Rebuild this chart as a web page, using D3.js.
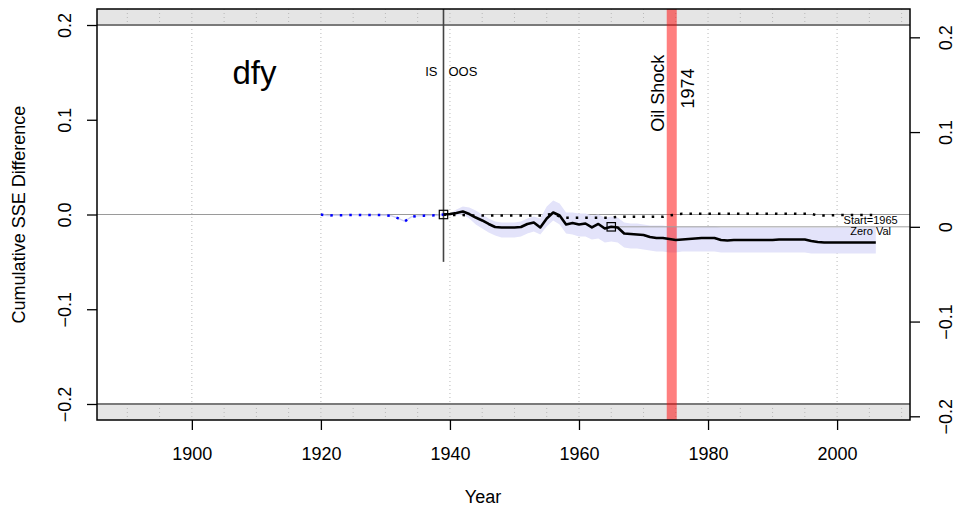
<!DOCTYPE html>
<html><head><meta charset="utf-8">
<script src="https://cdn.jsdelivr.net/npm/d3@7"></script>
<style>body{margin:0;background:#fff;} svg{display:block;font-family:"Liberation Sans",Arial,Helvetica,sans-serif;}</style>
</head><body><svg id="c" width="956" height="514"></svg>
<script>
// ---------- data ----------
const isYears = [1920,1921,1922,1923,1924,1925,1926,1927,1928,1929,1930,1931,1932,1933,1934,1935,1936,1937,1938,1939];
const isDiff = [0,-0.0012,-0.0008,-0.0008,-0.0006,-0.0004,-0.0004,-0.0006,-0.0006,-0.0006,-0.0008,-0.0015,-0.0040,-0.0072,-0.0025,-0.0015,-0.0012,-0.0010,-0.0008,0];

const oosYears = d3.range(1939, 2007);
const cumDiff = [0,0.0005,0.0016,0.0032,0.0005,-0.0032,-0.0063,-0.0100,-0.0132,-0.0137,
  -0.0137,-0.0137,-0.0132,-0.0100,-0.0084,-0.0137,-0.0042,0.0021,-0.0011,-0.0106,
  -0.0090,-0.0106,-0.0095,-0.0137,-0.0100,-0.0148,-0.0130,-0.0137,-0.0200,-0.0206,
  -0.0211,-0.0216,-0.0237,-0.0248,-0.0248,-0.0259,-0.0269,-0.0264,-0.0259,-0.0253,
  -0.0248,-0.0248,-0.0248,-0.0269,-0.0274,-0.0269,-0.0269,-0.0269,-0.0269,-0.0269,
  -0.0269,-0.0269,-0.0264,-0.0264,-0.0264,-0.0264,-0.0264,-0.0280,-0.0290,-0.0295,
  -0.0295,-0.0295,-0.0295,-0.0295,-0.0295,-0.0295,-0.0295,-0.0295];
const bandUpper = [0,0.0011,0.0053,0.0084,0.0074,0.0042,0.0000,-0.0042,-0.0074,-0.0084,
  -0.0084,-0.0084,-0.0074,-0.0042,-0.0021,-0.0042,0.0084,0.0148,0.0116,0.0021,
  0.0021,0.0011,0.0011,-0.0011,0.0000,-0.0032,-0.0021,-0.0032,-0.0084,-0.0095,
  -0.0095,-0.0106,-0.0116,-0.0116,-0.0116,-0.0127,-0.0127,-0.0127,-0.0127,-0.0127,
  -0.0127,-0.0127,-0.0127,-0.0137,-0.0137,-0.0137,-0.0137,-0.0137,-0.0137,-0.0137,
  -0.0137,-0.0137,-0.0137,-0.0137,-0.0137,-0.0137,-0.0137,-0.0137,-0.0137,-0.0137,
  -0.0137,-0.0137,-0.0137,-0.0137,-0.0137,-0.0137,-0.0137,-0.0137];
const bandLower = [0,-0.0011,-0.0011,0.0000,-0.0042,-0.0106,-0.0148,-0.0190,-0.0222,-0.0243,
  -0.0243,-0.0243,-0.0232,-0.0200,-0.0179,-0.0211,-0.0127,-0.0063,-0.0106,-0.0200,
  -0.0211,-0.0232,-0.0232,-0.0264,-0.0253,-0.0295,-0.0285,-0.0295,-0.0348,-0.0359,
  -0.0359,-0.0369,-0.0380,-0.0390,-0.0390,-0.0401,-0.0401,-0.0390,-0.0390,-0.0390,
  -0.0390,-0.0390,-0.0390,-0.0401,-0.0401,-0.0401,-0.0401,-0.0401,-0.0401,-0.0401,
  -0.0401,-0.0401,-0.0401,-0.0401,-0.0401,-0.0401,-0.0401,-0.0411,-0.0411,-0.0411,
  -0.0411,-0.0411,-0.0411,-0.0411,-0.0411,-0.0411,-0.0411,-0.0411];
const baseDiff = [0,-0.0005,-0.0005,-0.0005,-0.001,-0.001,-0.001,-0.001,-0.001,-0.001,
  -0.001,-0.001,-0.001,-0.001,-0.001,-0.001,0.0,0.0007,-0.002,-0.0033,
  -0.0033,-0.0033,-0.0033,-0.0033,-0.0033,-0.0033,-0.0033,-0.0025,-0.0025,-0.0025,
  -0.0025,-0.0025,-0.0025,-0.0025,-0.0025,-0.001,0.0,0.0007,0.0007,0.0007,
  0.0007,0.0007,0.0007,0.0007,0.0007,0.0007,0.0007,0.0007,0.0007,0.0007,
  0.0007,0.0007,0.0007,0.0007,0.0007,0.0007,0.0007,0.0007,-0.001,-0.001,
  -0.001,-0.0005,-0.0005,-0.0005,-0.0005,-0.0005,-0.0005,-0.0005];

const xTicks = [1900,1920,1940,1960,1980,2000];
const yTicks = [-0.2,-0.1,0,0.1,0.2];
const isEnd = 1939;
const startYear = 1965;
const oilShockYear = 1974;
const oilShockSpan = [1973.6, 1975.15];
const variableName = "dfy";

// ---------- layout ----------
const L = 97, R = 910, T = 9, B = 420;
const svg = d3.select("#c");
const x = d3.scaleLinear().domain([1885.3, 2011.3]).range([L, R]);
const y = d3.scaleLinear().domain([-0.2169, 0.2169]).range([B, T]);
const startVal = cumDiff[oosYears.indexOf(startYear)];
const yR = d3.scaleLinear().domain(y.domain().map(d => d - startVal)).range([B, T]);

const g = svg.append("g");
svg.append("defs").append("clipPath").attr("id","clip").append("rect")
  .attr("x",L).attr("y",T).attr("width",R-L).attr("height",B-T);
const p = g.append("g").attr("clip-path","url(#clip)");

// grey bands
p.append("rect").attr("x",L).attr("y",T).attr("width",R-L).attr("height",y(0.2)-T).attr("fill","#e5e5e5");
p.append("rect").attr("x",L).attr("y",y(-0.2)).attr("width",R-L).attr("height",B-y(-0.2)).attr("fill","#e5e5e5");

// dotted grid
const fiveYears = d3.range(1890, 2011, 5);
fiveYears.forEach(yr => {
  [[T, y(0.2)],[y(-0.2), B]].forEach(([a,b]) => {
    p.append("line").attr("x1",x(yr)).attr("x2",x(yr)).attr("y1",a).attr("y2",b)
      .attr("stroke","#b8b8b8").attr("stroke-width",1).attr("stroke-dasharray","1,3");
  });
});
xTicks.forEach(yr => {
  p.append("line").attr("x1",x(yr)).attr("x2",x(yr)).attr("y1",y(0.2)).attr("y2",y(-0.2))
    .attr("stroke","#b8b8b8").attr("stroke-width",1).attr("stroke-dasharray","1,3");
});
[0.2,-0.2].forEach(v => p.append("line").attr("x1",L).attr("x2",R).attr("y1",y(v)).attr("y2",y(v))
  .attr("stroke","#7a7a7a").attr("stroke-width",2));
p.append("line").attr("x1",L).attr("x2",R).attr("y1",y(0)).attr("y2",y(0)).attr("stroke","#9a9a9a").attr("stroke-width",1);

// confidence band
const oos = oosYears.map((yr,i)=>({yr, v:cumDiff[i], hi:bandUpper[i], lo:bandLower[i], b:baseDiff[i]}));
p.append("path").datum(oos)
  .attr("d", d3.area().x(d=>x(d.yr)).y0(d=>y(d.lo)).y1(d=>y(d.hi)))
  .attr("fill","#e3e3fa");
const ism = isYears.map((yr,i)=>({yr, v:isDiff[i]}));
p.append("path").datum(ism).attr("d", d3.line().x(d=>x(d.yr)).y(d=>y(d.v)))
  .attr("fill","none").attr("stroke","#cfcff5").attr("stroke-width",1.3);

// oil shock band
p.append("rect").attr("x",x(oilShockSpan[0])).attr("width",x(oilShockSpan[1])-x(oilShockSpan[0]))
  .attr("y",T).attr("height",B-T).attr("fill","rgba(255,0,0,0.5)");

// zero val line
p.append("line").attr("x1",x(startYear)).attr("x2",R).attr("y1",y(startVal)).attr("y2",y(startVal))
  .attr("stroke","#a0a0a0").attr("stroke-width",1);

// IS/OOS divider
p.append("line").attr("x1",x(isEnd)).attr("x2",x(isEnd)).attr("y1",T).attr("y2",y(-0.05))
  .attr("stroke","#444").attr("stroke-width",1.6);

// lines
p.append("path").datum(oos).attr("d", d3.line().x(d=>x(d.yr)).y(d=>y(d.b)))
  .attr("fill","none").attr("stroke","#000").attr("stroke-width",2.5).attr("stroke-dasharray","2.5,7");
p.append("path").datum(ism).attr("d", d3.line().x(d=>x(d.yr)).y(d=>y(d.v)))
  .attr("fill","none").attr("stroke","#0000ff").attr("stroke-width",2.5).attr("stroke-dasharray","2.5,7");
p.append("path").datum(oos).attr("d", d3.line().x(d=>x(d.yr)).y(d=>y(d.v)))
  .attr("fill","none").attr("stroke","#000").attr("stroke-width",2.6).attr("stroke-linejoin","round");

// squares
[[isEnd, 0],[startYear, startVal]].forEach(([yr,v]) => {
  p.append("rect").attr("x",x(yr)-4.2).attr("y",y(v)-4.2).attr("width",8.4).attr("height",8.4)
    .attr("fill","none").attr("stroke","#000").attr("stroke-width",1.2);
});

// texts
g.append("text").attr("x",x(1909.7)).attr("y",y(0.138)).attr("text-anchor","middle")
  .attr("font-size",33).text(variableName);
g.append("text").attr("x",x(isEnd)-6).attr("y",y(0.146)).attr("text-anchor","end").attr("font-size",13).text("IS");
g.append("text").attr("x",x(isEnd)+5).attr("y",y(0.146)).attr("text-anchor","start").attr("font-size",13).text("OOS");
g.append("text").attr("transform",`translate(${x(oilShockSpan[0])-3},${y(0.128)}) rotate(-90)`)
  .attr("text-anchor","middle").attr("font-size",18).text("Oil Shock");
g.append("text").attr("transform",`translate(${x(oilShockSpan[1])+17},${y(0.133)}) rotate(-90)`)
  .attr("text-anchor","middle").attr("font-size",18).text(String(oilShockYear));
g.append("text").attr("x",x(2005.2)).attr("y",y(startVal)-2.5).attr("text-anchor","middle")
  .attr("font-size",11).text("Start=" + startYear);
g.append("text").attr("x",x(2005.2)).attr("y",y(startVal)+8.5).attr("text-anchor","middle")
  .attr("font-size",11).text("Zero Val");

// box
g.append("rect").attr("x",L).attr("y",T).attr("width",R-L).attr("height",B-T)
  .attr("fill","none").attr("stroke","#000").attr("stroke-width",1.5);

// axes
const FS = 18;
const fmtL = d3.format(".1f");
const ax = g.append("g").attr("transform",`translate(0,${B})`)
  .call(d3.axisBottom(x).tickValues(xTicks).tickSize(10).tickSizeOuter(0).tickFormat(d3.format("d")));
ax.select(".domain").remove();
ax.selectAll("text").attr("y",40).attr("dy",0).attr("font-size",FS).attr("fill","#000");

const ayl = g.append("g").attr("transform",`translate(${L},0)`)
  .call(d3.axisLeft(y).tickValues(yTicks).tickSize(10).tickSizeOuter(0).tickFormat(fmtL));
ayl.select(".domain").remove();
ayl.selectAll("text").attr("x",0).attr("dy",0).attr("text-anchor","middle")
  .attr("transform","translate(-26,0) rotate(-90)").attr("font-size",FS).attr("fill","#000");

const ayr = g.append("g").attr("transform",`translate(${R},0)`)
  .call(d3.axisRight(yR).tickValues(yTicks).tickSize(10).tickSizeOuter(0).tickFormat(d => d===0 ? "0" : fmtL(d)));
ayr.select(".domain").remove();
ayr.selectAll("text").attr("x",0).attr("dy",0).attr("text-anchor","middle")
  .attr("transform","translate(41.5,0) rotate(-90)").attr("font-size",FS).attr("fill","#000");
[ax, ayl, ayr].forEach(a => a.selectAll("line").attr("stroke","#000").attr("stroke-width",1.3));
[ax, ayl, ayr].forEach(a => a.attr("font-family",null));

// titles
g.append("text").attr("x",483).attr("y",503).attr("text-anchor","middle").attr("font-size",FS).text("Year");
g.append("text").attr("transform",`translate(25,${(T+B)/2}) rotate(-90)`).attr("text-anchor","middle")
  .attr("font-size",FS).text("Cumulative SSE Difference");
</script></body></html>
